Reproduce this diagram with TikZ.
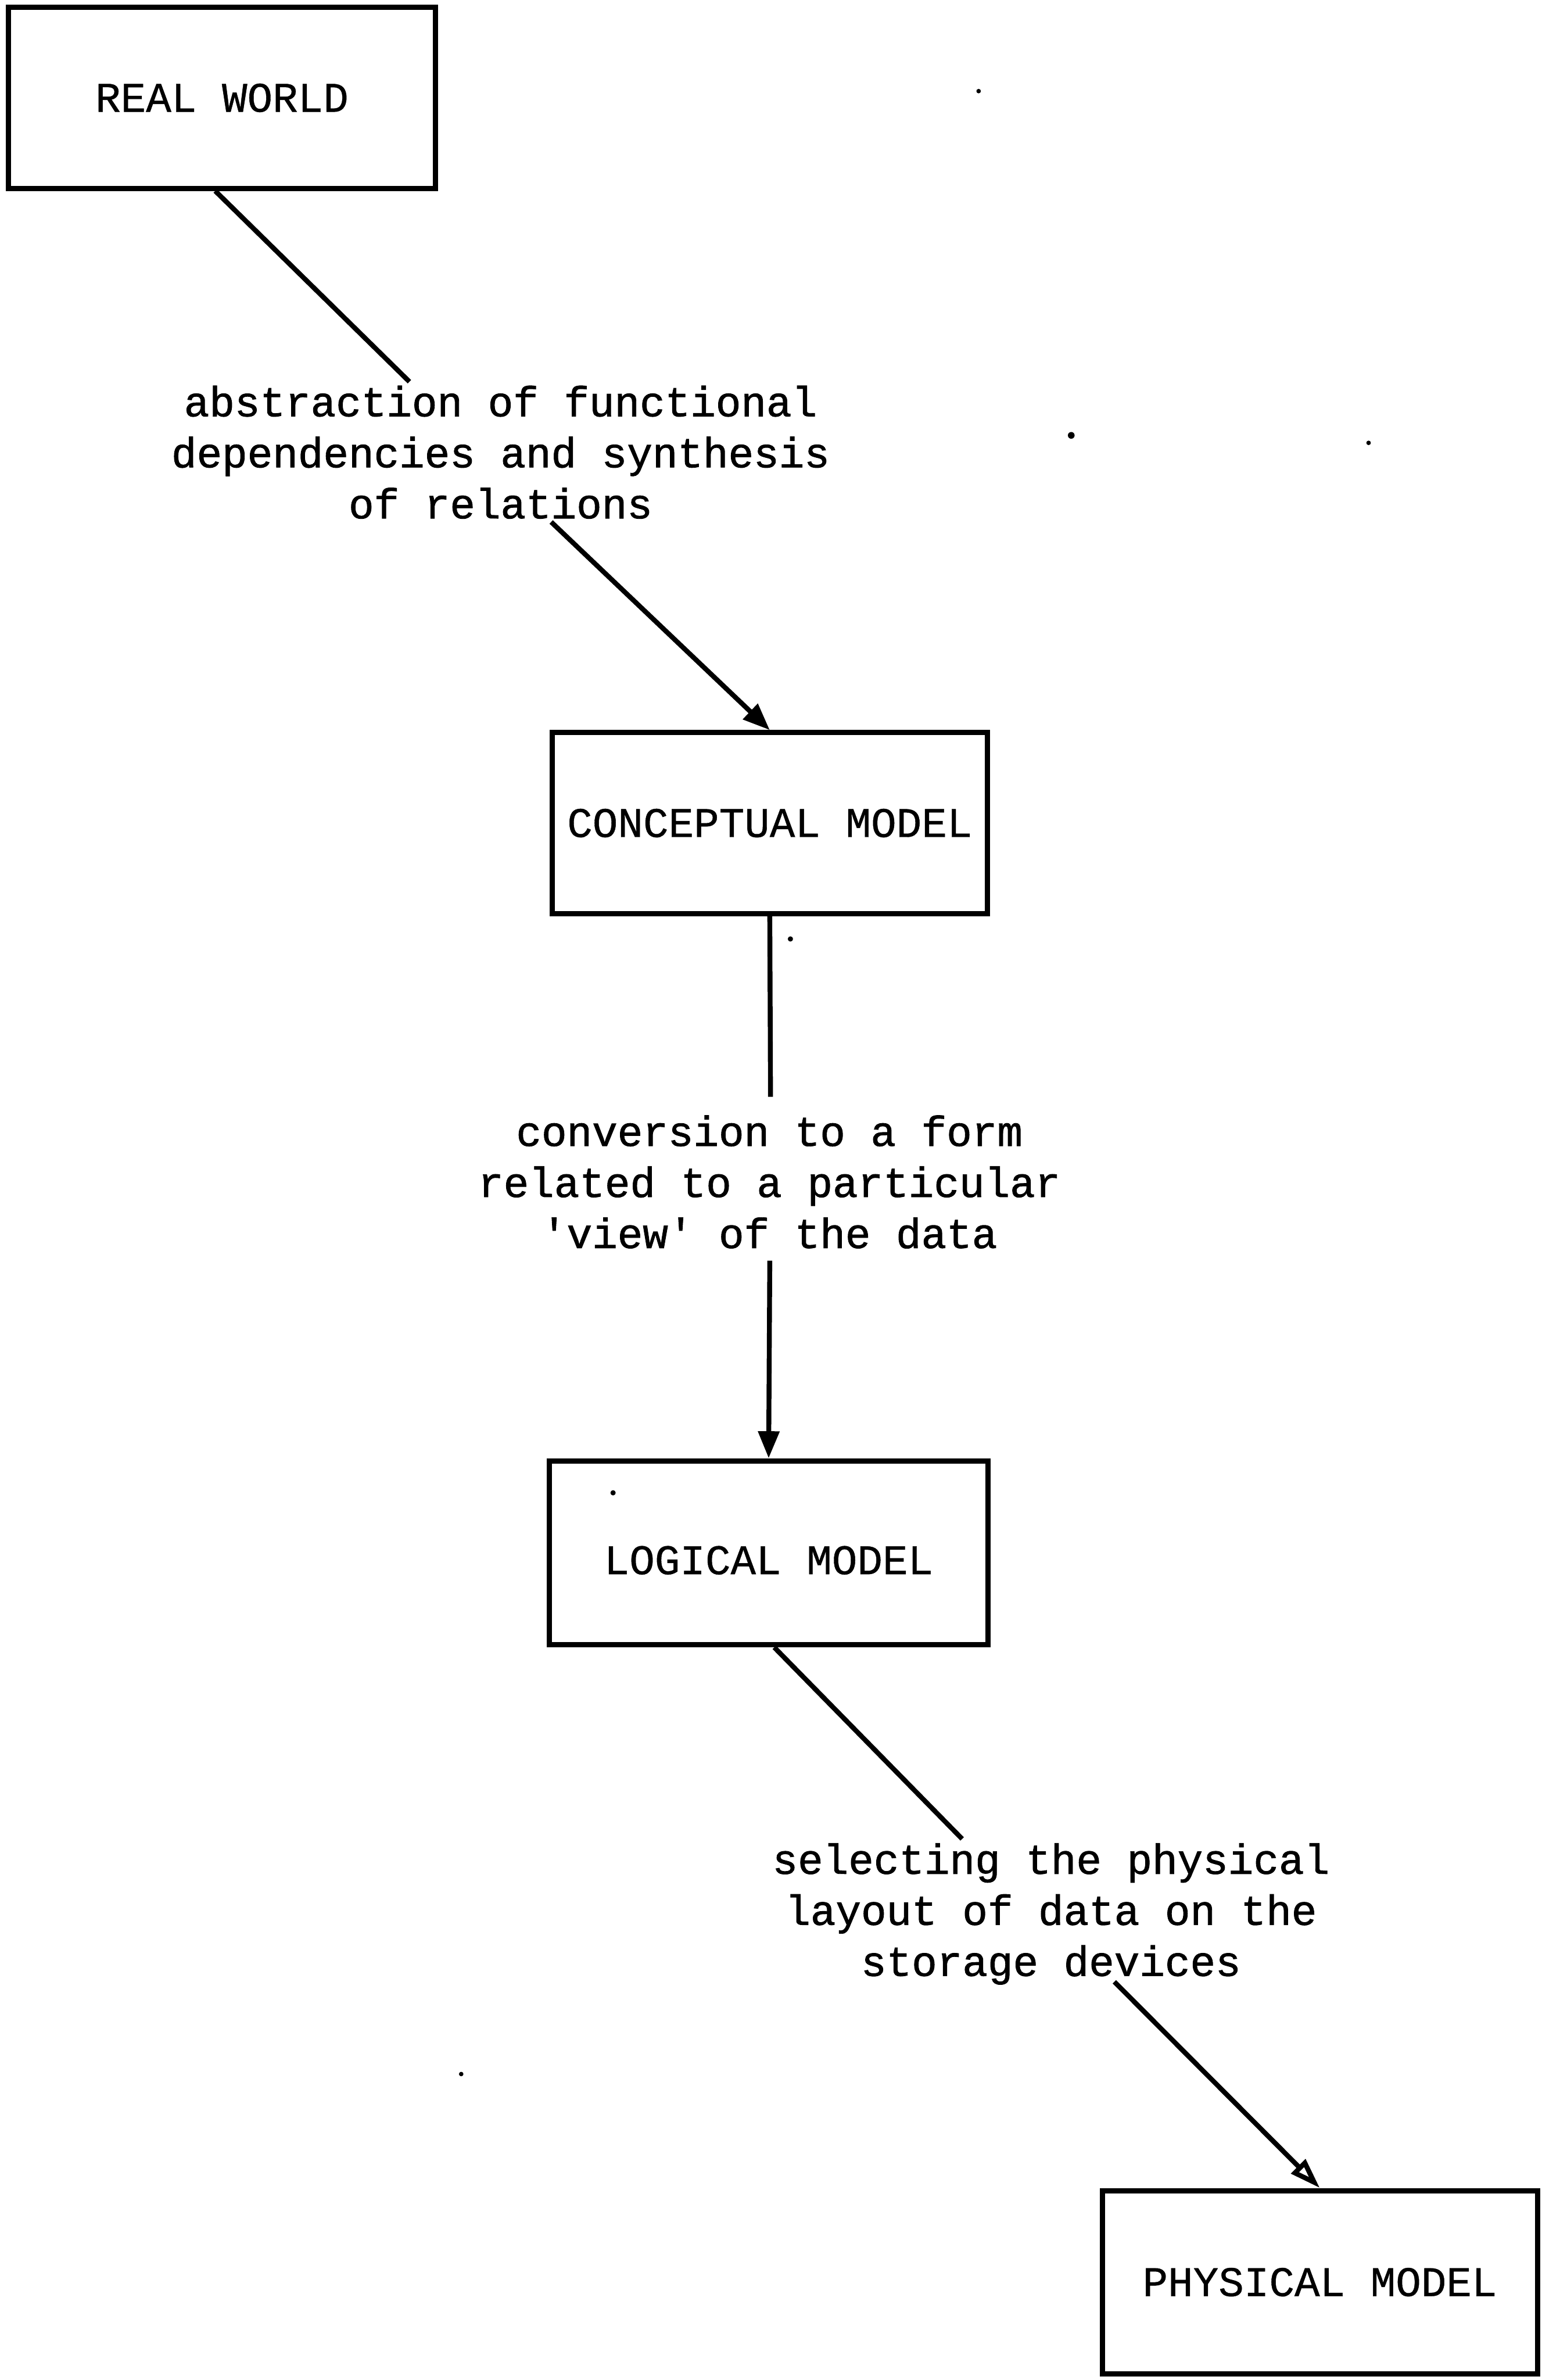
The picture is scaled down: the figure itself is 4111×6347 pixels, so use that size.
\documentclass[tikz,border=0pt]{standalone}
\usepackage{fontspec}
\newfontfamily\notefont{Liberation Mono}[FakeBold=1.2]
\newfontfamily\boxfont{Liberation Mono}[FakeBold=0.6]
\usetikzlibrary{arrows.meta}
\begin{document}
\begin{tikzpicture}[x=0.01cm,y=-0.01cm,
  modelbox/.style={draw,line width=0.14cm,inner sep=0pt,align=center,
    font=\boxfont\fontsize{32}{38.7}\selectfont},
  note/.style={align=center,inner sep=0pt,
    font=\notefont\fontsize{32}{38.7}\selectfont},
  link/.style={line width=0.13cm},
  solidhead/.style={-{Triangle[length=7.2mm,width=5.5mm]}},
  openhead/.style={-{Triangle[open,length=8.2mm,width=5.2mm]}},
  speck/.style={fill=black}]
\useasboundingbox (0,0) rectangle (4111,6347);

% the four models
\node[modelbox,minimum width=11.37cm,minimum height=4.82cm] (rw) at (592,261) {REAL WORLD};
\node[modelbox,minimum width=11.61cm,minimum height=4.82cm] (cm) at (2053,2195) {CONCEPTUAL MODEL};
\node[modelbox,minimum width=11.69cm,minimum height=4.90cm,text height=1.14cm,text depth=0pt] (lm) at (2050,4141) {LOGICAL MODEL};
\node[modelbox,minimum width=11.60cm,minimum height=4.88cm] (pm) at (3520,6086) {PHYSICAL MODEL};

% transformation descriptions
\node[note] (t1) at (1335,1206) {abstraction of functional\\dependencies and synthesis\\of relations};
\node[note] (t2) at (2052,3152) {conversion to a form\\related to a particular\\'view' of the data};
\node[note] (t3) at (2803,5104) {selecting the physical\\layout of data on the\\storage devices};

% loose ends of the connectors, broken by the descriptions
\coordinate (a1) at (1092,1018);
\coordinate (a2) at (1470,1392);
\coordinate (b1) at (2055,2925);
\coordinate (b2) at (2053,3362);
\coordinate (c1) at (2566,4904);
\coordinate (c2) at (2972,5285);

% connectors
\draw[link] ([xshift=-0.18cm]rw.south) -- (a1);
\draw[link,solidhead] (a2) -- (cm.north);
\draw[link] (cm.south) -- (b1);
\draw[link,solidhead] (b2) -- (lm.north);
\draw[link] ([xshift=0.15cm]lm.south) -- (c1);
\draw[link,openhead] (c2) -- (pm.north);

% specks on the sheet
\fill[speck] (2610,243) circle (0.06cm);
\fill[speck] (2857,1161) circle (0.09cm);
\fill[speck] (3650,1181) circle (0.06cm);
\fill[speck] (2108,2504) circle (0.07cm);
\fill[speck] (1635,3981) circle (0.07cm);
\fill[speck] (1230,5531) circle (0.06cm);
\end{tikzpicture}
\end{document}
